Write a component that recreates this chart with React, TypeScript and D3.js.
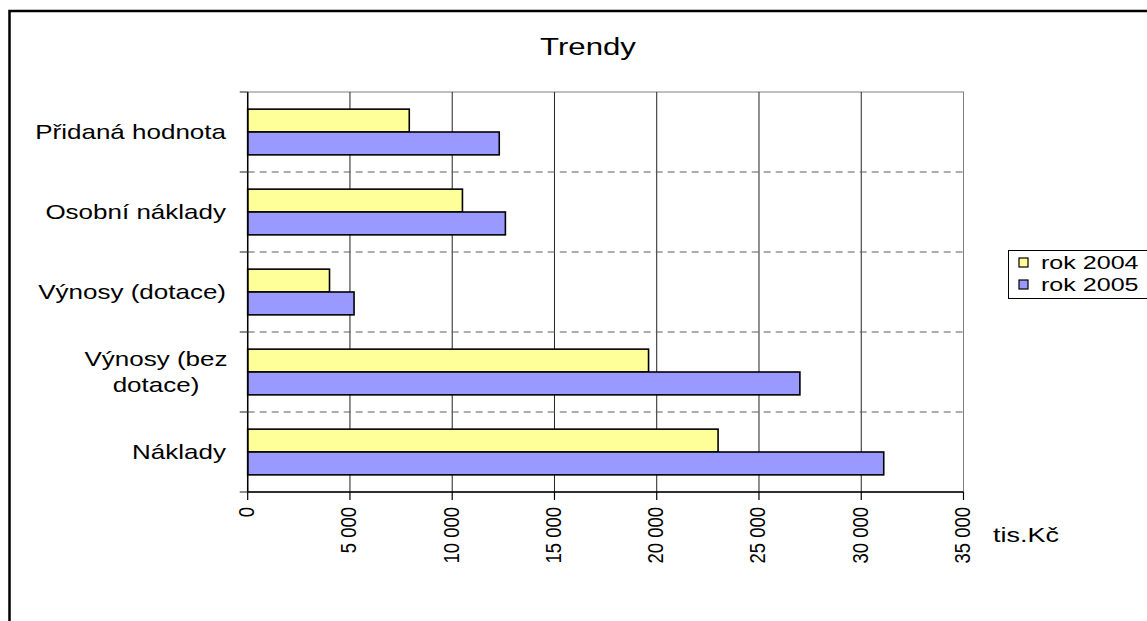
import React from "react";
import * as d3 from "d3";

// data (tis. Kč)
const categories = ["Přidaná hodnota", "Osobní náklady", "Výnosy (dotace)", "Výnosy (bez dotace)", "Náklady"];
const seriesNames = ["rok 2004", "rok 2005"];
const values2004 = [7900, 10500, 4000, 19600, 23000];
const values2005 = [12300, 12600, 5200, 27000, 31100];
const xTicks = [0, 5000, 10000, 15000, 20000, 25000, 30000, 35000];
const colors = ["#FFFF99", "#9999FF"];

const W = 1147;
const H = 621;
const FONT = "Arial, 'Liberation Sans', sans-serif";
const SX = 1.3; // the original chart is stretched sideways

// wrapped category labels, as Excel broke them
const labelLines: Record<string, string[]> = {
  "Výnosy (bez dotace)": ["Výnosy (bez", "dotace)"],
};

export default function App() {
  const plot = { left: 247.7, right: 963.5, top: 92, bottom: 492 };

  const x = d3.scaleLinear().domain([0, 35000]).range([plot.left, plot.right]);
  const y = d3.scaleBand().domain(categories).range([plot.top, plot.bottom]).paddingInner(0).paddingOuter(0);
  const ySeries = d3.scaleBand().domain(seriesNames).range([0, y.bandwidth()]).paddingInner(0).paddingOuter(0.75);

  const seriesValues = [values2004, values2005];
  const fmt = (v: number) => d3.format(",")(v).replace(/,/g, " ");

  const stretched = (tx: number, ty: number, s = SX) => `translate(${tx},${ty}) scale(${s},1)`;

  return (
    <svg width={W} height={H} style={{ position: "absolute", left: 0, top: 0, background: "#fff" }}>
      {/* chart frame */}
      <rect x={9.5} y={11} width={1300} height={800} fill="#fff" stroke="#000" strokeWidth={2.5} />

      {/* title */}
      <text transform={stretched(588, 55, 1.3)} textAnchor="middle" fontFamily={FONT} fontSize={24} fill="#000">
        Trendy
      </text>

      {/* plot border (top/right) */}
      <rect x={plot.left} y={plot.top} width={plot.right - plot.left} height={plot.bottom - plot.top} fill="none" stroke="#808080" strokeWidth={1} />

      {/* vertical gridlines */}
      {xTicks.slice(1).map((t) => (
        <line key={"g" + t} x1={x(t)} x2={x(t)} y1={plot.top} y2={plot.bottom} stroke={t === 35000 ? "#808080" : "#222"} strokeWidth={1} />
      ))}

      {/* horizontal dashed separators */}
      {categories.slice(1).map((c) => (
        <line key={"h" + c} x1={plot.left} x2={plot.right} y1={y(c)!} y2={y(c)!} stroke="#5e5e5e" strokeWidth={1.2} strokeDasharray="7,5" />
      ))}

      {/* bars */}
      {categories.map((c, i) => (
        <g key={"b" + c}>
          {seriesNames.map((s, k) => (
            <rect
              key={s}
              x={x(0)}
              y={y(c)! + ySeries(s)!}
              width={x(seriesValues[k][i]) - x(0)}
              height={ySeries.bandwidth()}
              fill={colors[k]}
              stroke="#000"
              strokeWidth={1.6}
            />
          ))}
        </g>
      ))}

      {/* y axis */}
      <line x1={plot.left} x2={plot.left} y1={plot.top} y2={plot.bottom} stroke="#000" strokeWidth={1.5} />
      {[...categories.map((c) => y(c)!), plot.bottom].map((v, i) => (
        <line key={"yt" + i} x1={plot.left - 8} x2={plot.left} y1={v} y2={v} stroke="#444" strokeWidth={1.2} />
      ))}
      {categories.map((c) => {
        const lines = labelLines[c] || [c];
        const cy = y(c)! + y.bandwidth() / 2;
        const lh = 26;
        const y0 = cy - ((lines.length - 1) * lh) / 2 + 7;
        if (lines.length === 1) {
          return (
            <text key={"yl" + c} transform={stretched(226, y0)} textAnchor="end" fontFamily={FONT} fontSize={20} fill="#000">
              {c}
            </text>
          );
        }
        return (
          <g key={"yl" + c}>
            {lines.map((ln, j) => (
              <text key={j} transform={stretched(156, y0 + j * lh)} textAnchor="middle" fontFamily={FONT} fontSize={20} fill="#000">
                {ln}
              </text>
            ))}
          </g>
        );
      })}

      {/* x axis */}
      <line x1={plot.left} x2={plot.right} y1={plot.bottom} y2={plot.bottom} stroke="#000" strokeWidth={1.5} />
      {xTicks.map((t) => (
        <g key={"xt" + t}>
          <line x1={x(t)} x2={x(t)} y1={plot.bottom} y2={plot.bottom + 8} stroke="#000" strokeWidth={1.2} />
          <text
            transform={`translate(${x(t) + 6.5},507) scale(1.2,1) rotate(-90)`}
            textAnchor="end"
            fontFamily={FONT}
            fontSize={18.5}
            fill="#000"
          >
            {fmt(t)}
          </text>
        </g>
      ))}
      <text transform={stretched(993, 542, 1.35)} fontFamily={FONT} fontSize={20} fill="#000">
        tis.Kč
      </text>

      {/* legend */}
      <rect x={1008.5} y={250.5} width={200} height={48} fill="#fff" stroke="#000" strokeWidth={1} />
      {seriesNames.map((s, k) => (
        <g key={"lg" + s}>
          <rect x={1019} y={258 + k * 22} width={9} height={9} fill={colors[k]} stroke="#000" strokeWidth={1.2} />
          <text transform={stretched(1041, 269 + k * 22, 1.32)} fontFamily={FONT} fontSize={19} fill="#000">
            {s}
          </text>
        </g>
      ))}
    </svg>
  );
}
